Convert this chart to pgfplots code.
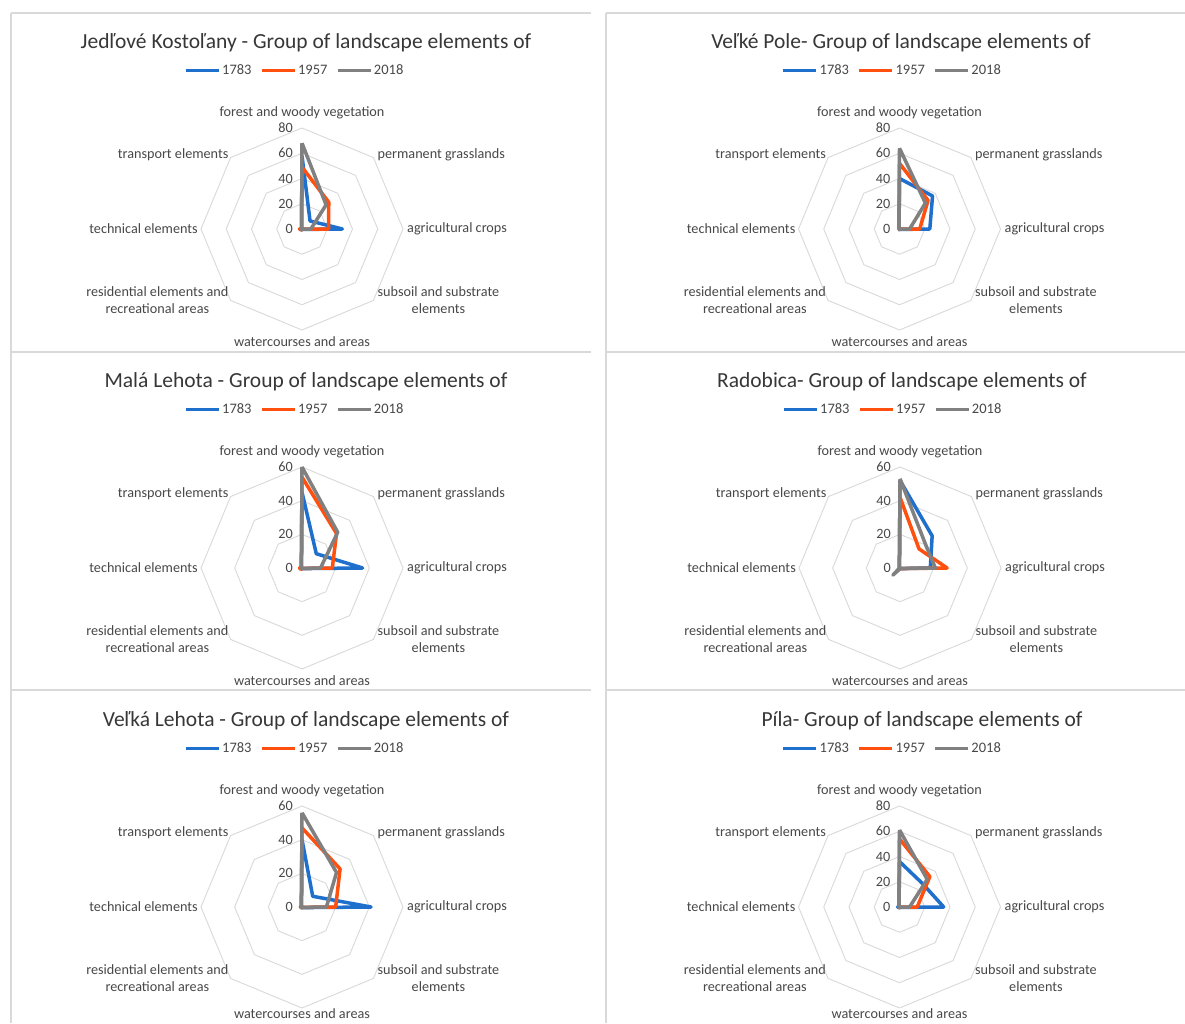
\documentclass[border=0pt]{standalone}
\usepackage{pgfplots}
\pgfplotsset{compat=1.18}
\usepackage{pgfplotstable}
\usepgfplotslibrary{polar}
\usepackage{fontspec}
\setmainfont{Carlito}
\definecolor{cA}{RGB}{31,111,205}
\definecolor{cB}{RGB}{255,80,16}
\definecolor{cC}{RGB}{128,128,128}
\definecolor{txt}{RGB}{72,72,72}
\definecolor{ttl}{RGB}{55,55,55}
\definecolor{ringc}{RGB}{217,217,217}
\definecolor{framec}{RGB}{217,217,217}

% columns: angle, share 1783, 1957, 2018 (categories clockwise from top)
\pgfplotstableread{
a y1783 y1957 y2018
90 58 49 68
45 9 30 27
0 32 21 7
-45 0.5 0.3 0.3
-90 0.5 0.5 0.5
-135 0.5 1 1
-180 0.3 2 0.3
-225 0.5 0.5 0.5
-270 58 49 68
}\tabA
\pgfplotstableread{
a y1783 y1957 y2018
90 40 52 64
45 37 32 29
0 24 16 8
-45 0.5 0.3 0.3
-90 0.5 0.5 0.5
-135 0.5 0.5 0.5
-180 0.3 0.3 0.3
-225 0.5 0.5 0.5
-270 40 52 64
}\tabB
\pgfplotstableread{
a y1783 y1957 y2018
90 45 54 60
45 12 29 30
0 36 18 11
-45 0.5 0.3 0.3
-90 0.5 0.5 0.5
-135 0.5 1 0.5
-180 0.3 1.5 0.3
-225 0.5 0.5 0.5
-270 45 54 60
}\tabC
\pgfplotstableread{
a y1783 y1957 y2018
90 52 42 53
45 27 16 21
0 18 28 21
-45 0.5 0.5 0.3
-90 0.5 0.5 0.5
-135 0.5 0.5 6
-180 0.3 0.3 0.3
-225 0.5 0.5 0.5
-270 52 42 53
}\tabD
\pgfplotstableread{
a y1783 y1957 y2018
90 40 47 56
45 9 32 29
0 41 20 14.5
-45 0.5 0.3 0.3
-90 0.5 0.5 0.5
-135 0.5 0.5 0.5
-180 0.3 1 0.3
-225 0.5 0.5 0.5
-270 40 47 56
}\tabE
\pgfplotstableread{
a y1783 y1957 y2018
90 36 54 61
45 26 34 31
0 35 14 8
-45 0.5 0.3 0.3
-90 0.5 0.5 0.5
-135 0.5 0.5 0.5
-180 1.5 0.3 0.3
-225 0.5 0.5 0.5
-270 36 54 61
}\tabF

\tikzset{lab/.style={font=\fontsize{14.2}{17}\selectfont, text=txt, inner sep=0pt}}

% #1 cx, #2 cy (image px, y down), #3 max, #4 table, #5 title, #6 title centre x,
% #7 vertical offset of the bottom category label
\newcommand{\radar}[7]{%
\begin{polaraxis}[
  at={(#1pt,1023pt-#2pt)}, anchor=center,
  scale only axis, width=202pt, height=202pt,
  xmin=0, xmax=360, ymin=0, ymax=#3,
  hide axis, clip=false,
  title={#5},
  title style={at={({0.5+(#6-#1)/202},1.352)}, anchor=center,
    font=\fontsize{21.5}{24}\selectfont, text=ttl},
  legend style={at={(0.463,1.2837)}, anchor=center, draw=none, fill=none,
    legend columns=3, font=\fontsize{14.5}{16}\selectfont, text=txt,
    /tikz/every even column/.append style={column sep=7pt},
    inner sep=0pt, nodes={inner sep=1.5pt}},
  legend image code/.code={\draw[##1] (0pt,0pt) -- (33pt,0pt);},
]
\pgfplotsinvokeforeach{20,40,...,#3}{
  \addplot[ringc, line width=0.9pt, mark=none, forget plot] coordinates
    {(90,##1)(45,##1)(0,##1)(-45,##1)(-90,##1)(-135,##1)(-180,##1)(-225,##1)(-270,##1)};
}
\pgfplotsinvokeforeach{0,20,...,#3}{
  \node[lab, anchor=east, xshift=-9pt] at (axis cs:90,##1) {##1};
}
\node[lab, anchor=center, yshift=15pt] at (axis cs:90,#3) {forest and woody vegetation};
\node[lab, anchor=west, xshift=4pt, yshift=3pt] at (axis cs:45,#3) {permanent grasslands};
\node[lab, anchor=west, xshift=4pt] at (axis cs:0,#3) {agricultural crops};
\node[lab, anchor=west, xshift=4pt, align=center] at (axis cs:-45,#3) {subsoil and substrate\\elements};
\node[lab, anchor=center, yshift=#7] at (axis cs:-90,#3) {watercourses and areas};
\node[lab, anchor=east, xshift=-2pt, align=center] at (axis cs:-135,#3) {residential elements and\\recreational areas};
\node[lab, anchor=east, xshift=-3pt] at (axis cs:180,#3) {technical elements};
\node[lab, anchor=east, xshift=-2pt, yshift=3pt] at (axis cs:135,#3) {transport elements};
\addplot[cA, line width=3.5pt, line join=round, mark=none] table[x=a,y=y1783]{#4};
\addplot[cB, line width=3.5pt, line join=round, mark=none] table[x=a,y=y1957]{#4};
\addplot[cC, line width=3.5pt, line join=round, mark=none] table[x=a,y=y2018]{#4};
\legend{1783,1957,2018}
\end{polaraxis}}

\begin{document}
\begin{tikzpicture}
\path[use as bounding box] (0,0) rectangle (1185pt,1023pt);
\fill[white] (0,0) rectangle (1185pt,1023pt);
% chart area frames
\begin{scope}[framec, line width=1.5pt]
\draw (11pt,0pt) -- (11pt,1023pt-13pt);
\draw (606pt,0pt) -- (606pt,1023pt-13pt);
\foreach \yy in {13,352,690}{
  \draw (11pt,1023pt-\yy pt) -- (591pt,1023pt-\yy pt);
  \draw (606pt,1023pt-\yy pt) -- (1185pt,1023pt-\yy pt);
}
\end{scope}
\radar{302}{229}{80}{\tabA}{Jedľové Kostoľany - Group of landscape elements of}{306}{-11.5pt}
\radar{899.5}{229}{80}{\tabB}{Veľké Pole- Group of landscape elements of}{901}{-11.5pt}
\radar{302}{568}{60}{\tabC}{Malá Lehota - Group of landscape elements of}{306}{-11.5pt}
\radar{900}{568}{60}{\tabD}{Radobica- Group of landscape elements of}{902}{-11.5pt}
\radar{302}{907}{60}{\tabE}{Veľká Lehota - Group of landscape elements of}{306}{-6pt}
\radar{899.5}{907}{80}{\tabF}{Píla- Group of landscape elements of}{922}{-6pt}
\end{tikzpicture}
\end{document}
